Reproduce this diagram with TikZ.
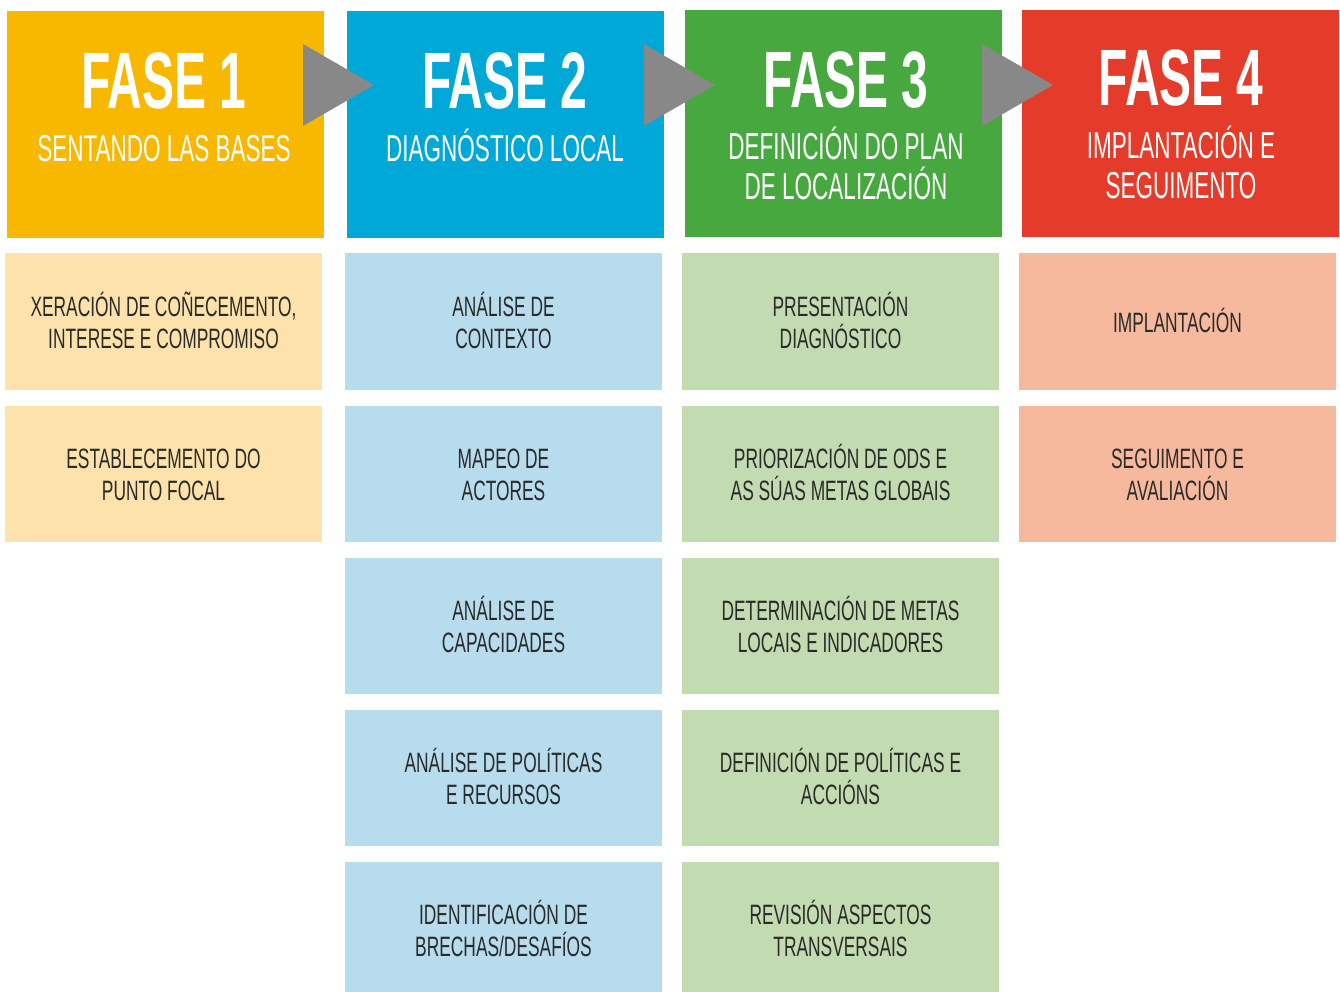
\documentclass[tikz,border=0pt]{standalone}
\usepackage{fontspec}
\setmainfont{Liberation Sans}[FakeStretch=0.6]
\newfontfamily\bodyfont{Liberation Sans}[FakeStretch=0.62]
\definecolor{c1}{HTML}{F9B800}
\definecolor{c2}{HTML}{00A8D7}
\definecolor{c3}{HTML}{46A83F}
\definecolor{c4}{HTML}{E53B2A}
\definecolor{c1l}{HTML}{FDE3AB}
\definecolor{c2l}{HTML}{B6DCEE}
\definecolor{c3l}{HTML}{C3DBB1}
\definecolor{c4l}{HTML}{F7B99E}
\definecolor{agray}{HTML}{888888}
\definecolor{txt}{HTML}{2A2A2A}
\begin{document}
\begin{tikzpicture}[x=1pt,y=-1pt,
  phase/.style={draw=none,minimum width=317pt,minimum height=227pt,inner sep=0pt},
  sub/.style={draw=none,minimum width=317pt,minimum height=136pt,inner sep=0pt,
    align=center,text=txt,font=\bodyfont\fontsize{28}{32}\selectfont,
    text height=53pt,text depth=0pt},
  oneline/.style={text height=21pt},
  ptitle/.style={anchor=base,text=white,inner sep=0pt,font=\fontsize{80}{80}\selectfont\bfseries},
  psub/.style={anchor=base,text=white,inner sep=0pt,align=center,font=\fontsize{37.5}{40}\selectfont},
  arr/.style={fill=agray}]
\useasboundingbox (0,0) rectangle (1340,992);
% phase headers
\node[phase,fill=c1] (f1) at (165.5,124.5) {};
\node[phase,fill=c2] (f2) at (505.5,124.5) {};
\node[phase,fill=c3] (f3) at (843,123.5) {};
\node[phase,fill=c4] (f4) at (1180,123.5) {};
\node[ptitle] (t1) at (164,109) {FASE 1};
\node[ptitle] (t2) at (505,109) {FASE 2};
\node[ptitle] (t3) at (846,108) {FASE 3};
\node[ptitle] (t4) at (1181,106) {FASE 4};
\node[psub] (s1) at (164,162) {SENTANDO LAS BASES};
\node[psub] (s2) at (505,162) {DIAGNÓSTICO LOCAL};
\node[psub] (s3) at (846,200) {DEFINICIÓN DO PLAN\\DE LOCALIZACIÓN};
\node[psub] (s4) at (1181,199) {IMPLANTACIÓN E\\SEGUIMENTO};
% arrows between phases
\coordinate (a1) at (303,44); \coordinate (a2) at (644,44); \coordinate (a3) at (982,44);
\fill[arr] (a1) -- ++(71,41) -- ++(-71,41) -- cycle;
\fill[arr] (a2) -- ++(71,41) -- ++(-71,41) -- cycle;
\fill[arr] (a3) -- ++(71,41) -- ++(-71,41) -- cycle;
% column 1
\node[sub,fill=c1l] (b11) at (163.5,321.5) {XERACIÓN DE COÑECEMENTO,\\INTERESE E COMPROMISO};
\node[sub,fill=c1l] (b12) at (163.5,474) {ESTABLECEMENTO DO\\PUNTO FOCAL};
% column 2
\node[sub,fill=c2l] (b21) at (503.5,321.5) {ANÁLISE DE\\CONTEXTO};
\node[sub,fill=c2l] (b22) at (503.5,474) {MAPEO DE\\ACTORES};
\node[sub,fill=c2l] (b23) at (503.5,625.5) {ANÁLISE DE\\CAPACIDADES};
\node[sub,fill=c2l] (b24) at (503.5,778) {ANÁLISE DE POLÍTICAS\\E RECURSOS};
\node[sub,fill=c2l] (b25) at (503.5,930) {IDENTIFICACIÓN DE\\BRECHAS/DESAFÍOS};
% column 3
\node[sub,fill=c3l] (b31) at (840.5,321.5) {PRESENTACIÓN\\DIAGNÓSTICO};
\node[sub,fill=c3l] (b32) at (840.5,474) {PRIORIZACIÓN DE ODS E\\AS SÚAS METAS GLOBAIS};
\node[sub,fill=c3l] (b33) at (840.5,625.5) {DETERMINACIÓN DE METAS\\LOCAIS E INDICADORES};
\node[sub,fill=c3l] (b34) at (840.5,778) {DEFINICIÓN DE POLÍTICAS E\\ACCIÓNS};
\node[sub,fill=c3l] (b35) at (840.5,930) {REVISIÓN ASPECTOS\\TRANSVERSAIS};
% column 4
\node[sub,oneline,fill=c4l] (b41) at (1177.5,321.5) {IMPLANTACIÓN};
\node[sub,fill=c4l] (b42) at (1177.5,474) {SEGUIMENTO E\\AVALIACIÓN};
\end{tikzpicture}
\end{document}
